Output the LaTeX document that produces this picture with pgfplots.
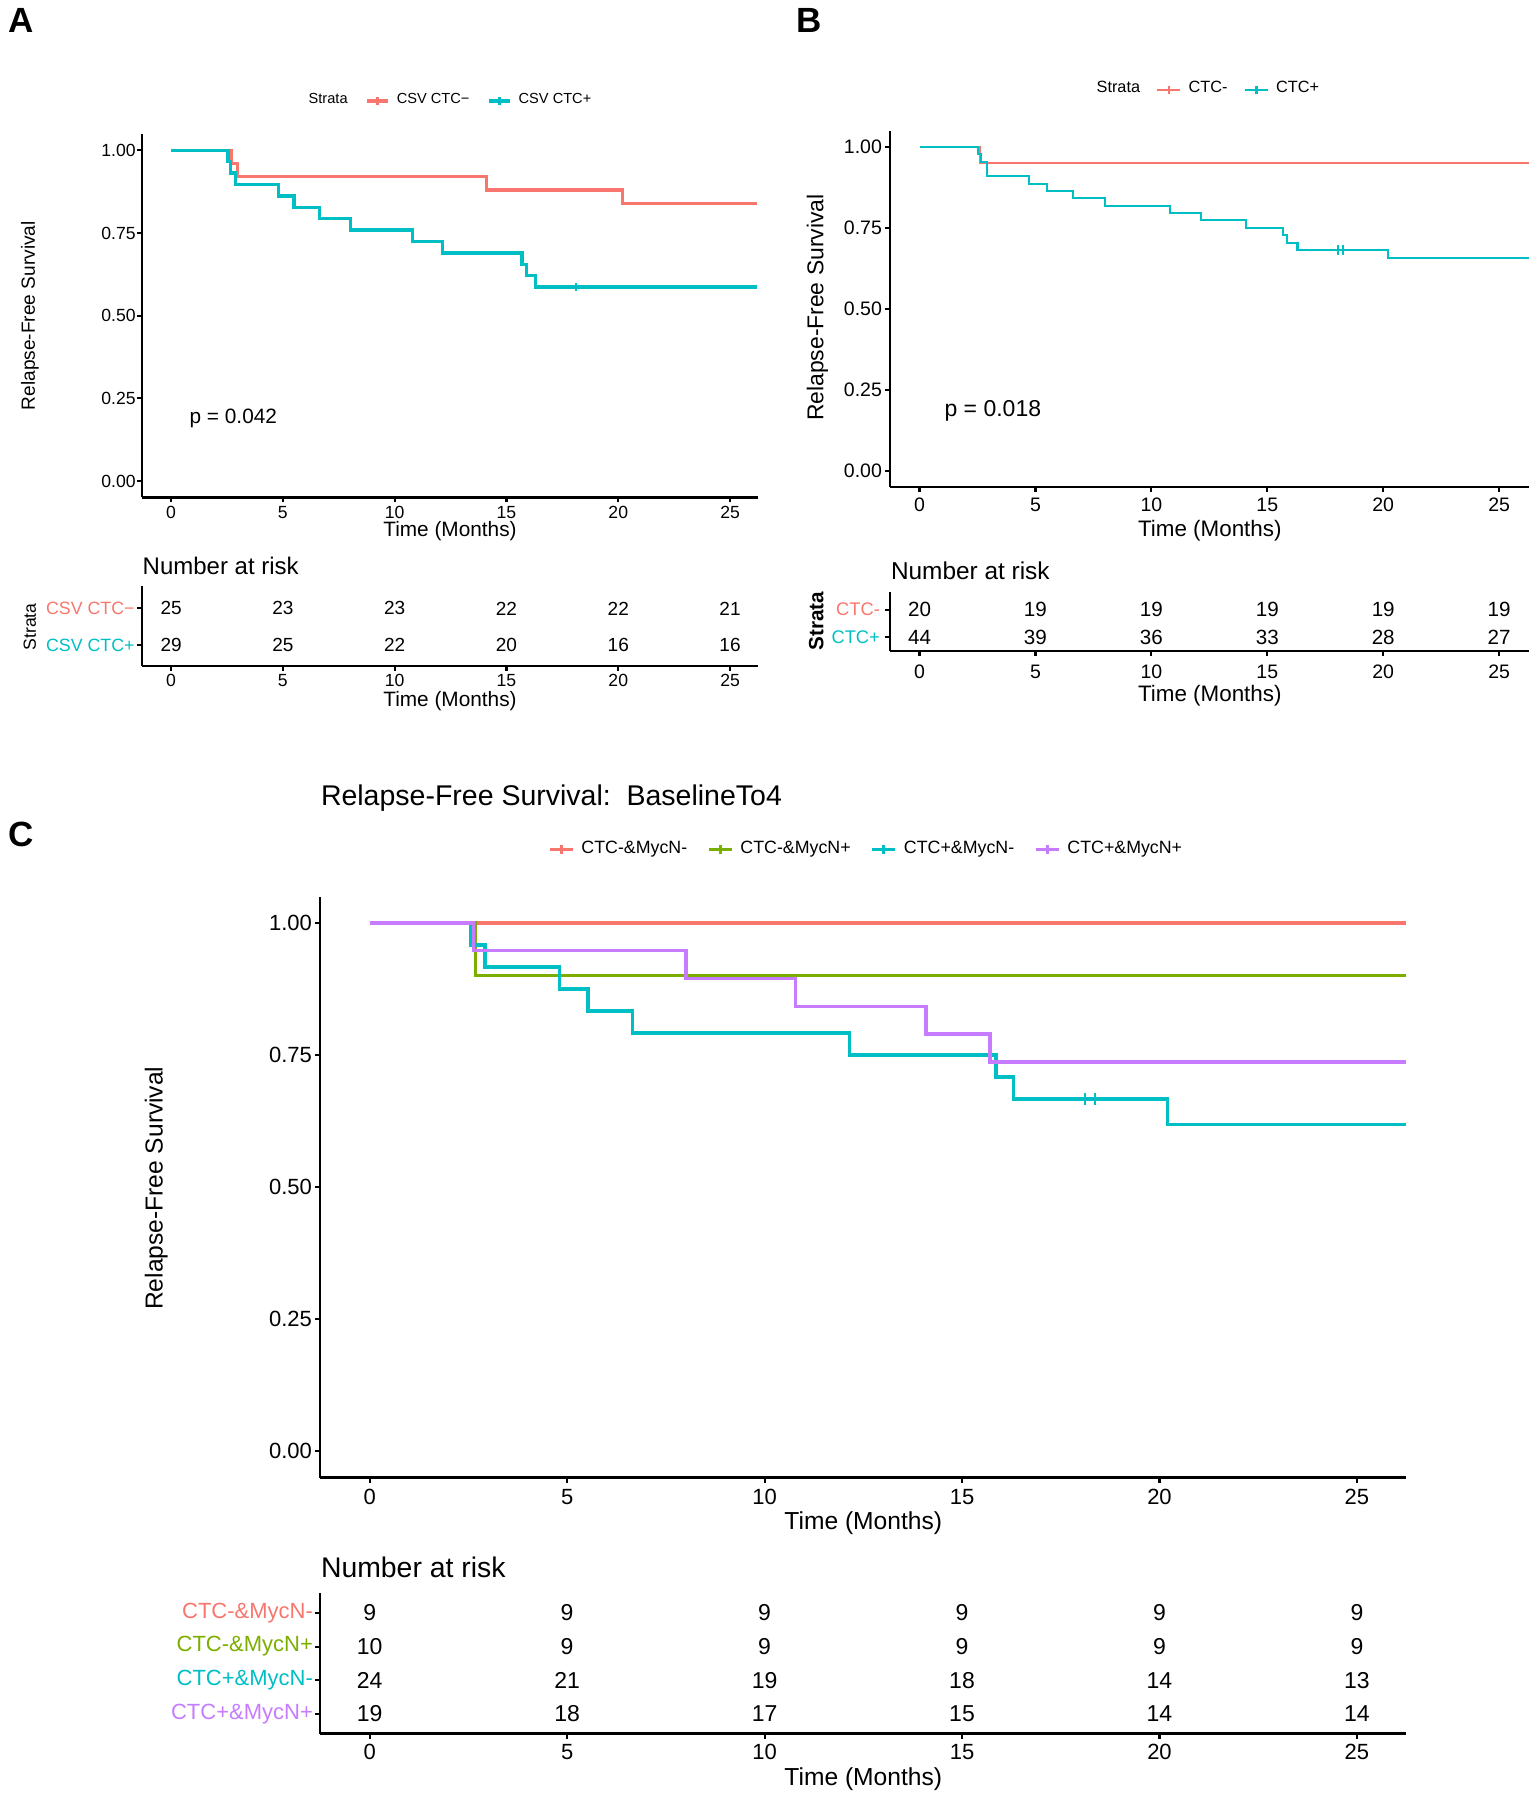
\documentclass[border=0pt]{standalone}
\usepackage{fontspec}
\setmainfont{Liberation Sans}
\usepackage{pgfplots}
\pgfplotsset{compat=1.18}

\definecolor{rdc}{HTML}{F8766D}
\definecolor{gnc}{HTML}{7CAE00}
\definecolor{cyc}{HTML}{00BFC4}
\definecolor{ppc}{HTML}{C77CFF}

% font size given in pixels of the 1537x1800 picture (1px = 0.1mm)
\newcommand\fpx[1]{\fontsize{\fpeval{#1*0.2845}}{\fpeval{#1*0.34}}\selectfont}

\pgfplotsset{
  km/.style={
    scale only axis,
    anchor=south west,
    axis x line*=bottom, axis y line*=left,
    axis line style={-, line width=0.6pt},
    tick align=outside, major tick length=0.5mm,
    tick style={black, line width=0.6pt},
    every axis title shift=0pt,
    /pgf/number format/assume math mode=true,
    legend style={draw=none, fill=none, legend columns=-1, inner sep=0pt},
    legend cell align=left,
  },
  surv/.style={
    km,
    ymin=-0.05, ymax=1.05,
    xtick={0,5,...,25},
    ytick={0,0.25,0.5,0.75,1},
    yticklabels={0.00,0.25,0.50,0.75,1.00},
    xlabel={Time (Months)}, ylabel={Relapse-Free Survival},
  },
  risk/.style={
    km,
    xtick={0,5,...,25},
    xlabel={Time (Months)},
    title={Number at risk},
  },
  rnum/.style={draw=none, mark=none, nodes near coords, point meta=explicit symbolic,
    nodes near coords style={anchor=center, font=\fpx{#1}}},
}

\begin{document}
\begin{tikzpicture}
\useasboundingbox (0,0) rectangle (153.7mm,180mm);

\node[font=\bfseries\fpx{35}] at (2.07mm,177.93mm) {A};
\node[font=\bfseries\fpx{35}] at (80.93mm,177.93mm) {B};
\node[font=\bfseries\fpx{35}] at (2.07mm,96.54mm) {C};

% ---------- A: survival ----------
\begin{axis}[surv, at={(14.2mm,130.25mm)}, width=61.6mm, height=36.37mm,
  xmin=-1.3, xmax=26.25,
  tick label style={font=\fpx{17.6}},
  xticklabel style={yshift=0.9mm},
  yticklabel style={xshift=1.1mm},
  label style={font=\fpx{20.8}},
  ylabel style={font=\fpx{19.1}, at={(axis description cs:-0.182,0.5)}, anchor=center},
  xlabel style={at={(axis description cs:0.5,-0.0935)}, anchor=center},
  axis line style={line width=0.7pt},
  legend style={at={(0.5,1.09)}, anchor=center, font=\fpx{14.6},
    /tikz/every even column/.append style={column sep=1.1mm}},
  legend image code/.code={\draw[mark repeat=2,mark phase=2,#1] plot coordinates {(0mm,0mm)(1.05mm,0mm)(2.1mm,0mm)};},
]
\addlegendimage{empty legend}\addlegendentry{Strata}
\addlegendimage{rdc, line width=0.9pt, mark=+, mark size=1.1pt}\addlegendentry{CSV CTC−}
\addlegendimage{cyc, line width=0.9pt, mark=+, mark size=1.1pt}\addlegendentry{CSV CTC+}
\addplot[const plot, rdc, line width=0.95pt, forget plot] coordinates {
  (0,1)(2.7,0.96)(2.97,0.92)(14.1,0.88)(20.2,0.84)(26.2,0.84)};
\addplot[const plot, cyc, line width=0.95pt, forget plot] coordinates {
  (0,1)(2.55,0.9655)(2.65,0.931)(2.88,0.8966)(4.8,0.862)(5.5,0.8276)(6.64,0.7931)
  (8.03,0.7586)(10.8,0.7241)(12.15,0.6897)(15.7,0.6552)(15.9,0.6207)(16.3,0.5862)(26.2,0.5862)};
\addplot[only marks, cyc, mark=|, mark size=1.1pt, mark options={line width=0.6pt}, forget plot] coordinates {(18.1,0.5862)};
\node[anchor=west, inner sep=0pt, font=\fpx{20.8}] at (axis cs:0.8,0.19) {p = 0.042};
\end{axis}

% ---------- A: number at risk ----------
\begin{axis}[risk, at={(14.2mm,113.42mm)}, width=61.6mm, height=7.95mm,
  xmin=-1.3, xmax=26.25, ymin=0.44, ymax=2.6,
  ytick={1,2},
  yticklabels={\textcolor{cyc}{CSV CTC+},\textcolor{rdc}{CSV CTC−}},
  xticklabel style={font=\fpx{17.6}, yshift=0.9mm},
  yticklabel style={font=\fpx{17.8}, xshift=1mm},
  axis line style={line width=0.7pt},
  xlabel style={font=\fpx{20.8}, at={(axis description cs:0.5,-0.448)}, anchor=center},
  ylabel={Strata},
  ylabel style={font=\fpx{17.6}, at={(axis description cs:-0.182,0.49)}, anchor=center},
  title style={font=\fpx{24}, inner xsep=0pt, at={(axis description cs:0,1.255)}, anchor=west},
]
\addplot[rnum=19] table[meta=n] {
x y n
0 2 25
5 2 23
10 2 23
15 2 22
20 2 22
25 2 21
0 1 29
5 1 25
10 1 22
15 1 20
20 1 16
25 1 16
};
\end{axis}

% ---------- B: survival ----------
\begin{axis}[surv, at={(89.03mm,131.31mm)}, width=63.9mm, height=35.62mm,
  xmin=-1.26, xmax=26.3,
  tick label style={font=\fpx{19.5}},
  xticklabel style={yshift=0.6mm},
  yticklabel style={xshift=0.9mm},
  label style={font=\fpx{22.4}},
  ylabel style={font=\fpx{22.9}, at={(axis description cs:-0.114,0.503)}, anchor=center},
  xlabel style={at={(axis description cs:0.5,-0.122)}, anchor=center},
  legend style={at={(0.497,1.115)}, anchor=center, font=\fpx{16.3},
    /tikz/every even column/.append style={column sep=0.9mm}},
  legend image code/.code={\draw[mark repeat=2,mark phase=2,#1] plot coordinates {(0mm,0mm)(1.15mm,0mm)(2.3mm,0mm)};},
]
\addlegendimage{empty legend}\addlegendentry{Strata}
\addlegendimage{rdc, line width=0.7pt, mark=+, mark size=1.2pt}\addlegendentry{CTC-}
\addlegendimage{cyc, line width=0.7pt, mark=+, mark size=1.2pt}\addlegendentry{CTC+}
\addplot[const plot, rdc, line width=0.6pt, forget plot] coordinates {
  (0,1)(2.62,0.95)(26.3,0.95)};
\addplot[const plot, cyc, line width=0.6pt, forget plot] coordinates {
  (0,1)(2.52,0.977)(2.65,0.9545)(2.9,0.909)(4.74,0.886)(5.48,0.8636)(6.62,0.841)
  (8.0,0.818)(10.79,0.795)(12.13,0.773)(14.08,0.75)(15.66,0.727)(15.86,0.7045)
  (16.3,0.682)(20.2,0.657)(26.3,0.657)};
\addplot[only marks, cyc, mark=|, mark size=1.5pt, mark options={line width=0.5pt}, forget plot] coordinates {(18.05,0.682)(18.27,0.682)};
\node[anchor=west, inner sep=0pt, font=\fpx{23}] at (axis cs:1.05,0.185) {p = 0.018};
\end{axis}

% ---------- B: number at risk ----------
\begin{axis}[risk, at={(89.03mm,114.91mm)}, width=63.9mm, height=5.91mm,
  xmin=-1.26, xmax=26.3, ymin=0.5, ymax=2.65,
  ytick={1,2},
  yticklabels={\textcolor{cyc}{CTC+},\textcolor{rdc}{CTC-}},
  xticklabel style={font=\fpx{19.5}, yshift=0.35mm},
  yticklabel style={font=\fpx{18.3}, xshift=0.7mm},
  xlabel style={font=\fpx{22.4}, at={(axis description cs:0.5,-0.758)}, anchor=center},
  ylabel={Strata},
  ylabel style={font=\bfseries\fpx{20.7}, at={(axis description cs:-0.116,0.506)}, anchor=center},
  title style={font=\fpx{24.4}, inner xsep=0pt, at={(axis description cs:0,1.36)}, anchor=west},
]
\addplot[rnum=20.6] table[meta=n] {
x y n
0 2 20
5 2 19
10 2 19
15 2 19
20 2 19
25 2 19
0 1 44
5 1 39
10 1 36
15 1 33
20 1 28
25 1 27
};
\end{axis}

% ---------- C: survival ----------
\begin{axis}[surv, at={(32.03mm,32.25mm)}, width=108.6mm, height=58.09mm,
  xmin=-1.25, xmax=26.25,
  tick label style={font=\fpx{22}},
  xticklabel style={yshift=0.6mm},
  yticklabel style={xshift=0.9mm},
  label style={font=\fpx{24.6}},
  ylabel style={at={(axis description cs:-0.151,0.498)}, anchor=center},
  xlabel style={at={(axis description cs:0.5,-0.079)}, anchor=center},
  title={Relapse-Free Survival:~~BaselineTo4},
  title style={font=\fpx{28.5}, inner xsep=0pt, at={(axis description cs:0,1.17)}, anchor=west},
  legend style={at={(0.505,1.081)}, anchor=center, font=\fpx{17.8},
    /tikz/every even column/.append style={column sep=1.3mm}},
  legend image code/.code={\draw[mark repeat=2,mark phase=2,#1] plot coordinates {(0mm,0mm)(1.15mm,0mm)(2.3mm,0mm)};},
]
\addlegendimage{rdc, line width=0.9pt, mark=+, mark size=1.3pt}\addlegendentry{CTC-\&MycN-}
\addlegendimage{gnc, line width=0.9pt, mark=+, mark size=1.3pt}\addlegendentry{CTC-\&MycN+}
\addlegendimage{cyc, line width=0.9pt, mark=+, mark size=1.3pt}\addlegendentry{CTC+\&MycN-}
\addlegendimage{ppc, line width=0.9pt, mark=+, mark size=1.3pt}\addlegendentry{CTC+\&MycN+}
\addplot[const plot, rdc, line width=0.95pt, forget plot] coordinates {(0,1)(26.25,1)};
\addplot[const plot, gnc, line width=0.95pt, forget plot] coordinates {(0,1)(2.68,0.9)(26.25,0.9)};
\addplot[const plot, cyc, line width=0.95pt, forget plot] coordinates {
  (0,1)(2.55,0.9583)(2.92,0.9167)(4.8,0.875)(5.53,0.8333)(6.66,0.7917)(12.15,0.75)
  (15.86,0.7083)(16.3,0.6667)(20.2,0.619)(26.25,0.619)};
\addplot[only marks, cyc, mark=|, mark size=1.7pt, mark options={line width=0.6pt}, forget plot] coordinates {(18.12,0.6667)(18.36,0.6667)};
\addplot[const plot, ppc, line width=0.95pt, forget plot] coordinates {
  (0,1)(2.63,0.9474)(8.01,0.8947)(10.78,0.8421)(14.09,0.7895)(15.71,0.7368)(26.25,0.7368)};
\end{axis}

% ---------- C: number at risk ----------
\begin{axis}[risk, at={(32.03mm,6.65mm)}, width=108.6mm, height=14.02mm,
  xmin=-1.25, xmax=26.25, ymin=0.42, ymax=4.58,
  ytick={1,2,3,4},
  yticklabels={\textcolor{ppc}{CTC+\&MycN+},\textcolor{cyc}{CTC+\&MycN-},\textcolor{gnc}{CTC-\&MycN+},\textcolor{rdc}{CTC-\&MycN-}},
  xticklabel style={font=\fpx{22}, yshift=0.7mm},
  yticklabel style={font=\fpx{22}, xshift=1mm},
  xlabel style={font=\fpx{24.6}, at={(axis description cs:0.5,-0.327)}, anchor=center},
  title style={font=\fpx{28.4}, inner xsep=0pt, at={(axis description cs:0,1.188)}, anchor=west},
]
\addplot[rnum=23] table[meta=n] {
x y n
0 4 9
5 4 9
10 4 9
15 4 9
20 4 9
25 4 9
0 3 10
5 3 9
10 3 9
15 3 9
20 3 9
25 3 9
0 2 24
5 2 21
10 2 19
15 2 18
20 2 14
25 2 13
0 1 19
5 1 18
10 1 17
15 1 15
20 1 14
25 1 14
};
\end{axis}
\end{tikzpicture}
\end{document}
